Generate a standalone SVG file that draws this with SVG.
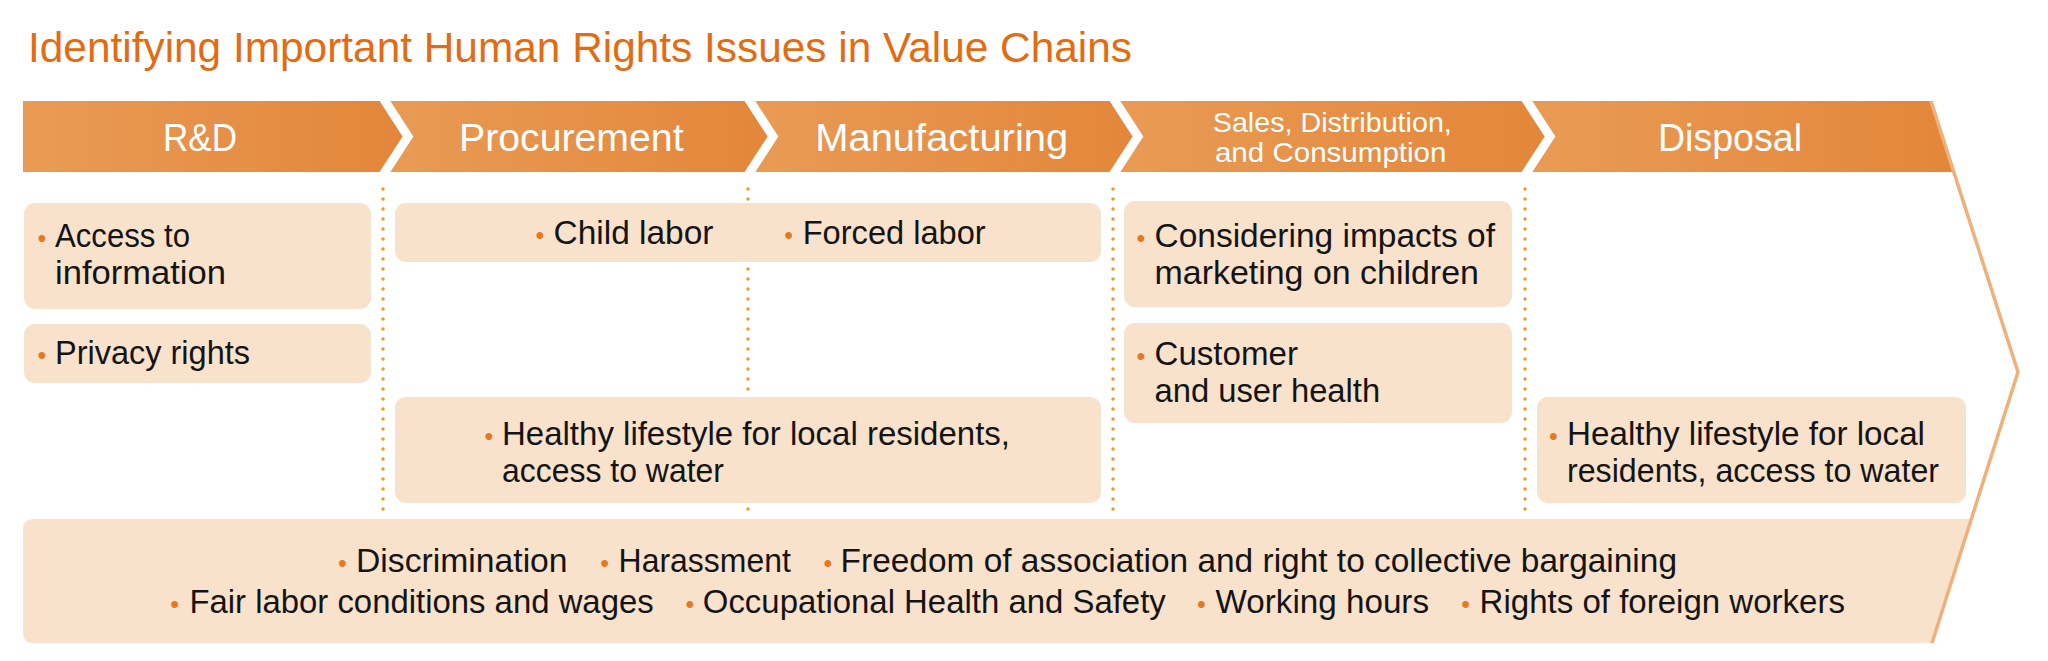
<svg xmlns="http://www.w3.org/2000/svg" width="2048" height="661" viewBox="0 0 2048 661">
<defs>
<linearGradient id="seg" x1="0" y1="0" x2="1" y2="0">
<stop offset="0" stop-color="#E99B55"/>
<stop offset="1" stop-color="#E3863A"/>
</linearGradient>
</defs>
<style>
.t{font-family:"Liberation Sans",Arial,sans-serif;font-size:34px;fill:#141414}
.b{font-family:"Liberation Sans",Arial,sans-serif;font-size:25px;fill:#E8781C}
.h{font-family:"Liberation Sans",Arial,sans-serif;font-size:38px;fill:#ffffff;text-anchor:middle}
.hs{font-family:"Liberation Sans",Arial,sans-serif;font-size:28px;fill:#ffffff;text-anchor:middle}
.box{fill:#F9E2CB}
.seg{fill:url(#seg)}
.chev{fill:none;stroke:#ffffff;stroke-width:9;stroke-linejoin:miter}
.div{stroke:#F39A1E;stroke-width:3.5;stroke-linecap:round;stroke-dasharray:0 10;fill:none}
</style>
<rect width="2048" height="661" fill="#ffffff"/>

<text id="title" x="28" y="62" font-family="'Liberation Sans',Arial,sans-serif" font-size="43" fill="#E36B12" textLength="1104" lengthAdjust="spacingAndGlyphs">Identifying Important Human Rights Issues in Value Chains</text>

<g id="connectors">
<line class="div" x1="383" y1="189" x2="383" y2="517"/>
<line class="div" x1="748" y1="189" x2="748" y2="517"/>
<line class="div" x1="1113" y1="189" x2="1113" y2="517"/>
<line class="div" x1="1525" y1="189" x2="1525" y2="517"/>
</g>

<g id="header">
<polygon class="seg" points="23,101 383,101 408,136.5 383,172 23,172"/>
<polygon class="seg" points="383,101 748,101 773,136.5 748,172 383,172 408,136.5"/>
<polygon class="seg" points="748,101 1113,101 1138,136.5 1113,172 748,172 773,136.5"/>
<polygon class="seg" points="1113,101 1525,101 1550,136.5 1525,172 1113,172 1138,136.5"/>
<polygon class="seg" points="1525,101 1931,101 1954,172 1525,172 1550,136.5"/>
<polyline class="chev" points="383,98 408,136.5 383,175"/>
<polyline class="chev" points="748,98 773,136.5 748,175"/>
<polyline class="chev" points="1113,98 1138,136.5 1113,175"/>
<polyline class="chev" points="1525,98 1550,136.5 1525,175"/>
</g>

<g id="stage-rd"><text class="h" x="200" y="150.5" textLength="74" lengthAdjust="spacingAndGlyphs">R&amp;D</text></g>
<g id="stage-procurement"><text class="h" x="571.3" y="150.5" textLength="224.5" lengthAdjust="spacingAndGlyphs">Procurement</text></g>
<g id="stage-manufacturing"><text class="h" x="941.7" y="150.5" textLength="253" lengthAdjust="spacingAndGlyphs">Manufacturing</text></g>
<g id="stage-sales">
<text class="hs" x="1332.3" y="131.7" textLength="239" lengthAdjust="spacingAndGlyphs">Sales, Distribution,</text>
<text class="hs" x="1330.7" y="161.5" textLength="231.5" lengthAdjust="spacingAndGlyphs">and Consumption</text>
</g>
<g id="stage-disposal"><text class="h" x="1730" y="150.5" textLength="144" lengthAdjust="spacingAndGlyphs">Disposal</text></g>

<g id="rd-access">
<rect class="box" x="24" y="203" width="347" height="106" rx="11"/>
<text class="b" x="37.6" y="246.7">•</text>
<text class="t" x="55" y="246.7" textLength="135" lengthAdjust="spacingAndGlyphs">Access to</text>
<text class="t" x="55" y="284" textLength="171" lengthAdjust="spacingAndGlyphs">information</text>
</g>

<g id="rd-privacy">
<rect class="box" x="24" y="324" width="347" height="59" rx="11"/>
<text class="b" x="37.6" y="364">•</text>
<text class="t" x="55" y="364" textLength="195" lengthAdjust="spacingAndGlyphs">Privacy rights</text>
</g>

<g id="proc-labor">
<rect class="box" x="395" y="203" width="706" height="59" rx="11"/>
<text class="b" x="535.6" y="244">•</text>
<text class="t" x="553.5" y="244" textLength="160" lengthAdjust="spacingAndGlyphs">Child labor</text>
<text class="b" x="784.2" y="244">•</text>
<text class="t" x="802.7" y="244" textLength="183" lengthAdjust="spacingAndGlyphs">Forced labor</text>
</g>

<g id="proc-health">
<rect class="box" x="395" y="397" width="706" height="106" rx="11"/>
<text class="b" x="484.6" y="445">•</text>
<text class="t" x="502" y="445" textLength="508" lengthAdjust="spacingAndGlyphs">Healthy lifestyle for local residents,</text>
<text class="t" x="502" y="481.7" textLength="222" lengthAdjust="spacingAndGlyphs">access to water</text>
</g>

<g id="sales-marketing">
<rect class="box" x="1124" y="201" width="388" height="106" rx="11"/>
<text class="b" x="1136.6" y="246.7">•</text>
<text class="t" x="1154.5" y="246.7" textLength="340.5" lengthAdjust="spacingAndGlyphs">Considering impacts of</text>
<text class="t" x="1154.5" y="284" textLength="324.4" lengthAdjust="spacingAndGlyphs">marketing on children</text>
</g>

<g id="sales-health">
<rect class="box" x="1124" y="323" width="388" height="100" rx="11"/>
<text class="b" x="1136.6" y="365">•</text>
<text class="t" x="1154.5" y="365" textLength="143.5" lengthAdjust="spacingAndGlyphs">Customer</text>
<text class="t" x="1154.5" y="401.7" textLength="225.6" lengthAdjust="spacingAndGlyphs">and user health</text>
</g>

<g id="disposal-health">
<rect class="box" x="1537" y="397" width="429" height="106" rx="11"/>
<text class="b" x="1549.1" y="445">•</text>
<text class="t" x="1567" y="445" textLength="358" lengthAdjust="spacingAndGlyphs">Healthy lifestyle for local</text>
<text class="t" x="1567" y="481.7" textLength="372" lengthAdjust="spacingAndGlyphs">residents, access to water</text>
</g>

<g id="common">
<path class="box" d="M33,519 L1971,519 L1932,643 L33,643 Q23,643 23,633 L23,529 Q23,519 33,519 Z"/>
<text class="b" x="338.1" y="571.7">•</text>
<text class="t" x="356" y="571.7" textLength="211.6" lengthAdjust="spacingAndGlyphs">Discrimination</text>
<text class="b" x="600.2" y="571.7">•</text>
<text class="t" x="618.6" y="571.7" textLength="172.2" lengthAdjust="spacingAndGlyphs">Harassment</text>
<text class="b" x="823.6" y="571.7">•</text>
<text class="t" x="840.6" y="571.7" textLength="836.4" lengthAdjust="spacingAndGlyphs">Freedom of association and right to collective bargaining</text>
<text class="b" x="170.3" y="613.3">•</text>
<text class="t" x="189.4" y="613.3" textLength="464.3" lengthAdjust="spacingAndGlyphs">Fair labor conditions and wages</text>
<text class="b" x="685.6" y="613.3">•</text>
<text class="t" x="702.8" y="613.3" textLength="463" lengthAdjust="spacingAndGlyphs">Occupational Health and Safety</text>
<text class="b" x="1197.1" y="613.3">•</text>
<text class="t" x="1215.6" y="613.3" textLength="213.4" lengthAdjust="spacingAndGlyphs">Working hours</text>
<text class="b" x="1461.2" y="613.3">•</text>
<text class="t" x="1479.6" y="613.3" textLength="365.4" lengthAdjust="spacingAndGlyphs">Rights of foreign workers</text>
</g>

<polyline id="arrow-outline" points="1931,101 2018,372 1932,643" fill="none" stroke="#EFB07A" stroke-width="3.5" stroke-linejoin="miter"/>
</svg>
